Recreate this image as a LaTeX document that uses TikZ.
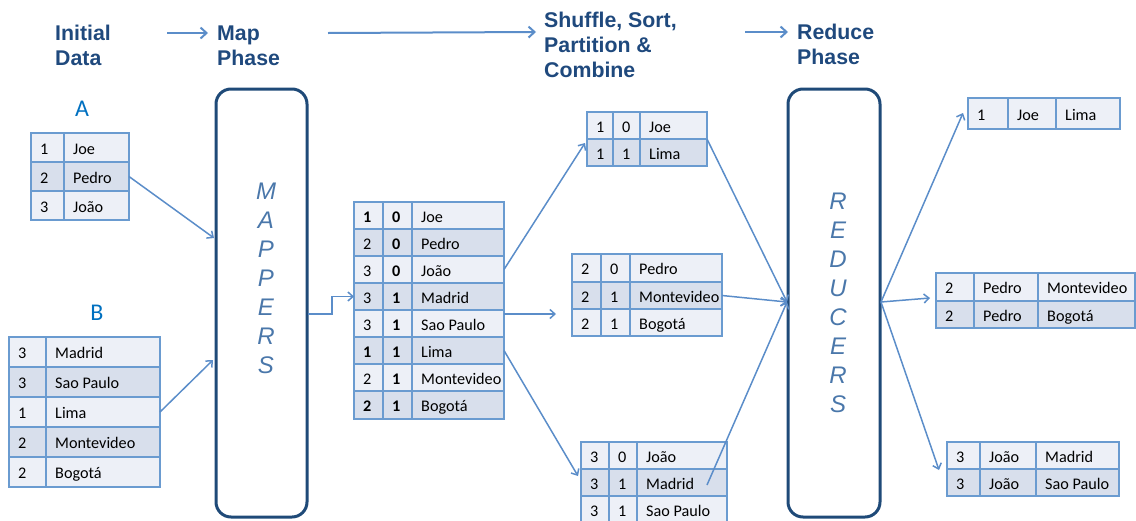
\documentclass[tikz,border=0pt]{standalone}
\usepackage{fontspec}
\setmainfont{Carlito}
\newfontfamily\hdrfont{Liberation Sans}
\usetikzlibrary{arrows.meta}
\definecolor{hdr}{HTML}{1F497D}
\definecolor{boxc}{HTML}{1F4A78}
\definecolor{bord}{HTML}{6A9BD0}
\definecolor{lt}{HTML}{EDF0F7}
\definecolor{dk}{HTML}{D8DFEC}
\definecolor{cnc}{HTML}{5B8DC9}
\definecolor{lett}{HTML}{4A77AA}
\definecolor{labc}{HTML}{0070C0}
\newcommand\tcell[7]{%
  \pgfmathsetmacro\cw{#4-#2}%
  \pgfmathsetmacro\ch{#5-#3}%
  \node[cellbox, fill=#6, minimum width=\cw pt, minimum height=\ch pt] (#1) at (#2,#3) {};
  \node[celltext] (#1t) at ([xshift=9pt,yshift=-6.8pt]#1.west) {#7};}
\newcommand\rowtwo[6]{%
  \tcell{#1-1}{\xa}{#2}{\xb}{#3}{#4}{#5}%
  \tcell{#1-2}{\xb}{#2}{\xc}{#3}{#4}{#6}}
\newcommand\rowthree[7]{%
  \tcell{#1-1}{\xa}{#2}{\xb}{#3}{#4}{#5}%
  \tcell{#1-2}{\xb}{#2}{\xc}{#3}{#4}{#6}%
  \tcell{#1-3}{\xc}{#2}{\xd}{#3}{#4}{#7}}
\begin{document}
\begin{tikzpicture}[x=1pt,y=-1pt,
  cellbox/.style={draw=bord, line width=1.6pt, anchor=north west, inner sep=0pt, outer sep=0pt},
  celltext/.style={anchor=base west, inner sep=0pt, font=\fontsize{16.2}{18}\selectfont, text=black},
  hdrst/.style={anchor=west, align=left, font=\hdrfont\bfseries\fontsize{21.3}{25}\selectfont, text=hdr, inner sep=0pt},
  phase/.style={draw=boxc, line width=3pt, rounded corners=15pt, anchor=north west, outer sep=0pt, inner sep=0pt},
  vlet/.style={align=center, inner sep=0pt, font=\hdrfont\itshape\fontsize{24}{29}\selectfont, text=lett},
  connst/.style={draw=cnc, line width=1.5pt, -{Straight Barb[length=5pt,width=9pt]}},
  harrow/.style={draw=cnc, line width=2pt, -{Straight Barb[length=6pt,width=11pt]}},
  tlab/.style={font=\fontsize{24}{24}\selectfont, text=labc, inner sep=0pt}
]
\useasboundingbox (0,0) rectangle (1136,520);
\clip (0,0) rectangle (1136,520);

% headers
\node[hdrst] (init) at (55,45.5) {Initial\\Data};
\node[hdrst] (map) at (217,45.5) {Map\\Phase};
\node[hdrst] (shuf) at (544,45) {Shuffle, Sort,\\Partition \&\\Combine};
\node[hdrst] (red) at (797,44.5) {Reduce\\Phase};
\coordinate (h1a) at (167,33); \coordinate (h1b) at (208,33);
\coordinate (h2a) at (328,33); \coordinate (h2b) at (536,32);
\coordinate (h3a) at (745,32); \coordinate (h3b) at (788,32);
\draw[harrow] (h1a) -- (h1b);
\draw[harrow] (h2a) -- (h2b);
\draw[harrow] (h3a) -- (h3b);

% phase boxes
\node[phase, minimum width=91pt, minimum height=428pt] (mappers) at (216,89) {};
\node[vlet] (mapT) at (266,278.5) {M\\A\\P\\P\\E\\R\\S};
\node[phase, minimum width=92pt, minimum height=428pt] (reducers) at (788,89) {};
\node[vlet] (redT) at (838,302.5) {R\\E\\D\\U\\C\\E\\R\\S};

% table A
\node[tlab] (labA) at (82,109) {A};
\def\xa{31}\def\xb{64}\def\xc{129}
\rowtwo{A1}{133}{162}{lt}{1}{Joe}
\rowtwo{A2}{162}{191}{dk}{2}{Pedro}
\rowtwo{A3}{191}{220}{lt}{3}{João}

% table B
\node[tlab] (labB) at (97,313) {B};
\def\xa{9}\def\xb{46}\def\xc{160}
\rowtwo{B1}{337}{367}{lt}{3}{Madrid}
\rowtwo{B2}{367}{397}{dk}{3}{Sao Paulo}
\rowtwo{B3}{397}{427}{lt}{1}{Lima}
\rowtwo{B4}{427}{457}{dk}{2}{Montevideo}
\rowtwo{B5}{457}{487}{lt}{2}{Bogotá}

% middle table
\def\xa{354}\def\xb{383}\def\xc{412}\def\xd{504}
\rowthree{M1}{202}{229}{lt}{\textbf{1}}{\textbf{0}}{Joe}
\rowthree{M2}{229}{256}{dk}{2}{\textbf{0}}{Pedro}
\rowthree{M3}{256}{283}{lt}{3}{\textbf{0}}{João}
\rowthree{M4}{283}{310}{dk}{3}{\textbf{1}}{Madrid}
\rowthree{M5}{310}{337}{lt}{3}{\textbf{1}}{Sao Paulo}
\rowthree{M6}{337}{364}{dk}{\textbf{1}}{\textbf{1}}{Lima}
\rowthree{M7}{364}{391}{lt}{2}{\textbf{1}}{Montevideo}
\rowthree{M8}{391}{419}{dk}{\textbf{2}}{\textbf{1}}{Bogotá}

% shuffle tables
\def\xa{587}\def\xb{613}\def\xc{640}\def\xd{707}
\rowthree{S1r1}{112}{139}{lt}{1}{0}{Joe}
\rowthree{S1r2}{139}{166}{dk}{1}{1}{Lima}
\def\xa{572}\def\xb{601}\def\xc{630}\def\xd{722}
\rowthree{S2r1}{254}{282}{lt}{2}{0}{Pedro}
\rowthree{S2r2}{282}{309}{dk}{2}{1}{Montevideo}
\rowthree{S2r3}{309}{336}{lt}{2}{1}{Bogotá}
\def\xa{581}\def\xb{609}\def\xc{637}\def\xd{727}
\rowthree{S3r1}{442}{469}{lt}{3}{0}{João}
\rowthree{S3r2}{469}{496}{dk}{3}{1}{Madrid}
\rowthree{S3r3}{496}{523}{lt}{3}{1}{Sao Paulo}

% output tables
\def\xa{968}\def\xb{1008}\def\xc{1056}\def\xd{1120}
\rowthree{O1r1}{98}{129}{lt}{1}{Joe}{Lima}
\def\xa{936}\def\xb{974}\def\xc{1038}\def\xd{1135}
\rowthree{O2r1}{273}{301}{lt}{2}{Pedro}{Montevideo}
\rowthree{O2r2}{301}{328}{dk}{2}{Pedro}{Bogotá}
\def\xa{947}\def\xb{980}\def\xc{1036}\def\xd{1119}
\rowthree{O3r1}{442}{469}{lt}{3}{João}{Madrid}
\rowthree{O3r2}{469}{496}{dk}{3}{João}{Sao Paulo}

% connector end points
\coordinate (mA) at (214,238);
\coordinate (mB) at (213,360);
\coordinate (mOut) at (308,314);
\coordinate (m5o) at (504,314);
\coordinate (s1in) at (585,143);
\coordinate (s2in) at (556,314);
\coordinate (s3in) at (578,476);
\coordinate (s3o) at (707,485);
\coordinate (rIn) at (787,302);
\coordinate (rOut) at (881,302);
\coordinate (o1in) at (963,113);
\coordinate (o2in) at (930,298);
\coordinate (o3in) at (939,470);

% connectors
\draw[connst] (A2-2.east) -- (mA);
\draw[connst] (B3-2.east) -- (mB);
\draw[connst] (mOut) -- ++(24,0) |- (M4-1.west);
\draw[connst] (M3-3.east) -- (s1in);
\draw[connst] (m5o) -- (s2in);
\draw[connst] (M6-3.east) -- (s3in);
\draw[connst] (S1r2-3.north east) -- (rIn);
\draw[connst] (S2r2-3.east) -- (rIn);
\draw[connst] (s3o) -- (rIn);
\draw[connst] (rOut) -- (o1in);
\draw[connst] (rOut) -- (o2in);
\draw[connst] (rOut) -- (o3in);
\end{tikzpicture}
\end{document}
